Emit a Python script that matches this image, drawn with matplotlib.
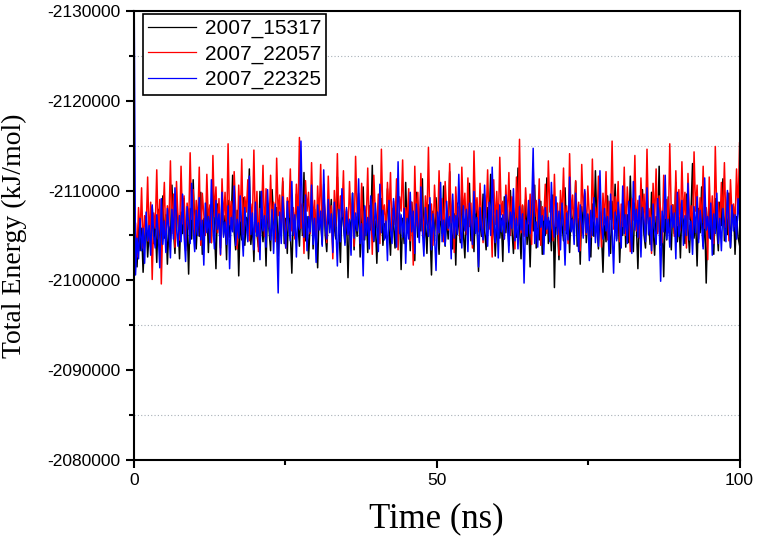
import numpy as np
import matplotlib
matplotlib.use("Agg")
import matplotlib.pyplot as plt
from matplotlib.ticker import MultipleLocator, StrMethodFormatter

plt.rcParams['axes.unicode_minus'] = False

# total energy (kJ/mol), evenly spaced over 0-100 ns
energy_15317 = [
    -2102800, -2104900, -2101500, -2106200, -2103300, -2105800, -2100900, -2104400, -2107100, -2102600,
    -2105500, -2103700, -2108200, -2104100, -2106600, -2102000, -2107900, -2105000, -2103200, -2109400,
    -2104700, -2107300, -2101800, -2106000, -2104300, -2110600, -2105600, -2103000, -2108400, -2106700,
    -2102400, -2107600, -2105200, -2109100, -2103800, -2106400, -2100700, -2108000, -2104600, -2111200,
    -2105900, -2103500, -2107400, -2104900, -2109800, -2102900, -2106900, -2105300, -2108700, -2103100,
    -2107700, -2104200, -2110300, -2105700, -2101300, -2108500, -2106100, -2103600, -2109500, -2105100,
    -2107200, -2102300, -2108900, -2104800, -2106300, -2111700, -2105400, -2103400, -2107800, -2100500,
    -2106800, -2104500, -2109200, -2103900, -2107000, -2105800, -2112400, -2104000, -2106500, -2102100,
    -2108300, -2105200, -2103700, -2109900, -2106200, -2104300, -2107500, -2101600, -2108600, -2105600,
    -2103300, -2110100, -2106600, -2104700, -2108100, -2102700, -2107300, -2105500, -2111000, -2104100,
    -2106900, -2103000, -2108800, -2105300, -2100800, -2107600, -2104800, -2109600, -2106300, -2103800,
    -2108400, -2105000, -2112000, -2104400, -2107100, -2102400, -2106000, -2109300, -2103500, -2107900,
    -2105700, -2101400, -2108200, -2106500, -2104000, -2110700, -2105100, -2103200, -2107400, -2106100,
    -2109000, -2103700, -2106800, -2104600, -2111500, -2105900, -2102000, -2108500, -2106400, -2104200,
    -2107700, -2100300, -2106700, -2105400, -2109700, -2103400, -2107200, -2104900, -2108900, -2102600,
    -2106000, -2110400, -2104500, -2107800, -2103100, -2108300, -2105600, -2112800, -2104300, -2106600,
    -2101900, -2107300, -2105100, -2109100, -2103900, -2106300, -2104700, -2110200, -2105800, -2102800,
    -2108000, -2106200, -2103600, -2109400, -2105000, -2107500, -2101200, -2106900, -2104100, -2110900,
    -2105300, -2107900, -2103300, -2108700, -2106500, -2102200, -2109800, -2104800, -2107100, -2105500,
    -2111300, -2104000, -2106700, -2103000, -2108400, -2105700, -2100600, -2107700, -2104400, -2109200,
    -2106100, -2102900, -2108100, -2105200, -2110500, -2103800, -2107000, -2104600, -2112100, -2105900,
    -2103500, -2107400, -2101700, -2108600, -2106000, -2104200, -2109900, -2105400, -2102500, -2107800,
    -2105000, -2110800, -2104400, -2106800, -2103200, -2108900, -2106300, -2101000, -2107600, -2104900,
    -2109600, -2105600, -2103400, -2108100, -2106600, -2111800, -2104300, -2107200, -2102700, -2106200,
    -2108500, -2104700, -2106900, -2102100, -2109300, -2105300, -2107900, -2103900, -2110000, -2105800,
    -2103000, -2107500, -2104800, -2112500, -2106100, -2102400, -2108300, -2105100, -2109000, -2104000,
    -2106700, -2101500, -2107800, -2105500, -2110600, -2103600, -2106400, -2104500, -2108800, -2102900,
    -2107100, -2105000, -2111400, -2104100, -2106600, -2103300, -2109500, -2099200, -2107400, -2105700,
    -2102300, -2108700, -2106200, -2104400, -2110300, -2105200, -2107700, -2103100, -2108000, -2106400,
    -2104700, -2111000, -2103800, -2106900, -2101800, -2108200, -2105400, -2109700, -2104200, -2107300,
    -2105900, -2102600, -2108500, -2104900, -2112200, -2106000, -2103500, -2107600, -2105300, -2100900,
    -2107000, -2104300, -2109400, -2105700, -2103000, -2108800, -2106300, -2110700, -2104600, -2107900,
    -2102000, -2106500, -2105000, -2109100, -2103700, -2107300, -2104200, -2111600, -2105600, -2103200,
    -2108600, -2106100, -2101300, -2107500, -2104800, -2110100, -2105100, -2103600, -2108300, -2106800,
    -2104000, -2109800, -2105900, -2102800, -2107100, -2105400, -2112700, -2103900, -2106600, -2100400,
    -2107800, -2104500, -2109300, -2106000, -2103400, -2108400, -2105200, -2110900, -2104300, -2107000,
    -2102500, -2108100, -2106400, -2104100, -2109600, -2105700, -2103100, -2107700, -2113000, -2104700,
    -2106900, -2101600, -2108000, -2105300, -2110400, -2103800, -2107200, -2099700, -2106300, -2108900,
    -2104600, -2107400, -2102900, -2109100, -2105800, -2103300, -2108700, -2106100, -2111300, -2104400,
    -2107500, -2105100, -2109700, -2103600, -2106800, -2108200, -2102900, -2107100, -2104800, -2103900,
]

energy_22057 = [
    -2103800, -2106400, -2102600, -2108100, -2104900, -2110300, -2103600, -2107200, -2105500, -2111500,
    -2104300, -2108700, -2100100, -2107500, -2105800, -2112300, -2104600, -2109000, -2099600, -2106900,
    -2110900, -2104100, -2108300, -2106000, -2113300, -2105200, -2109600, -2103700, -2111000, -2107000,
    -2104500, -2112700, -2106300, -2109400, -2103300, -2108600, -2105700, -2114200, -2106800, -2110100,
    -2104800, -2108900, -2106100, -2112600, -2103900, -2109700, -2107300, -2105000, -2111800, -2106500,
    -2108400, -2104200, -2113900, -2107100, -2110400, -2105300, -2109100, -2102800, -2111300, -2106700,
    -2109800, -2104700, -2115200, -2106200, -2108800, -2105600, -2112100, -2107800, -2103500, -2110600,
    -2106600, -2113500, -2105100, -2109300, -2107600, -2111200, -2104400, -2108500, -2106400, -2114500,
    -2105400, -2109900, -2103200, -2108000, -2106900, -2112800, -2104900, -2110200, -2107400, -2105900,
    -2111700, -2106000, -2108700, -2104300, -2113600, -2107200, -2109500, -2105000, -2111400, -2106800,
    -2103600, -2109200, -2107000, -2112400, -2105500, -2108100, -2104600, -2110700, -2106300, -2115900,
    -2105800, -2108600, -2103000, -2111100, -2107700, -2109800, -2105200, -2113100, -2106100, -2108900,
    -2104000, -2110500, -2106700, -2112900, -2105300, -2109100, -2107500, -2104200, -2111600, -2106500,
    -2108300, -2102400, -2110000, -2106000, -2114100, -2105700, -2109400, -2107100, -2112200, -2104700,
    -2107900, -2105100, -2111000, -2106800, -2108600, -2103800, -2113800, -2107300, -2109700, -2105600,
    -2110800, -2104500, -2108200, -2106400, -2112500, -2105000, -2109000, -2102900, -2111700, -2107600,
    -2105900, -2109600, -2104100, -2114600, -2106900, -2108400, -2105300, -2110900, -2107000, -2112000,
    -2104800, -2108800, -2106200, -2111300, -2103400, -2109300, -2107700, -2113400, -2105400, -2108100,
    -2106600, -2110200, -2104400, -2108700, -2101700, -2112700, -2106100, -2109800, -2105000, -2111900,
    -2107400, -2104900, -2109400, -2106300, -2114800, -2105800, -2108500, -2103900, -2110600, -2107100,
    -2105200, -2112200, -2106700, -2109100, -2104300, -2111000, -2107800, -2105600, -2113000, -2106400,
    -2108900, -2103100, -2110400, -2106900, -2108200, -2104700, -2112600, -2107200, -2109700, -2105100,
    -2111400, -2106000, -2108600, -2103600, -2114400, -2107500, -2109200, -2105400, -2110800, -2106800,
    -2104200, -2109500, -2107000, -2112300, -2105700, -2108000, -2102600, -2111200, -2106200, -2109900,
    -2105500, -2113700, -2107300, -2108800, -2104600, -2110600, -2106500, -2112000, -2105000, -2109300,
    -2107900, -2103500, -2111500, -2106100, -2115700, -2105300, -2108400, -2104900, -2110300, -2107400,
    -2106300, -2109600, -2104000, -2112800, -2107100, -2108900, -2105900, -2111300, -2103900, -2108200,
    -2106700, -2110700, -2105200, -2113300, -2107600, -2109000, -2104400, -2111800, -2106000, -2108600,
    -2102800, -2110000, -2106900, -2112500, -2105600, -2108300, -2104100, -2114100, -2107000, -2109500,
    -2105800, -2111100, -2106400, -2108700, -2103300, -2112900, -2107700, -2109900, -2105100, -2110500,
    -2107200, -2104800, -2113500, -2106600, -2108100, -2105400, -2111600, -2107900, -2103700, -2109700,
    -2106200, -2112100, -2104500, -2108800, -2106800, -2115500, -2105700, -2109300, -2107300, -2111000,
    -2104300, -2108500, -2106000, -2112600, -2105000, -2110400, -2107500, -2103200, -2109100, -2106700,
    -2113900, -2105500, -2108900, -2104700, -2111400, -2107100, -2109600, -2105900, -2114600, -2106300,
    -2108000, -2103000, -2110800, -2106500, -2112400, -2105200, -2109400, -2107800, -2104200, -2111700,
    -2106900, -2109000, -2105300, -2115200, -2107400, -2108400, -2104900, -2112200, -2106100, -2110100,
    -2105600, -2113200, -2107000, -2109800, -2103600, -2111900, -2106800, -2108300, -2105000, -2114300,
    -2107700, -2110600, -2104600, -2109200, -2106400, -2112700, -2105800, -2108100, -2102300, -2111500,
    -2106300, -2109400, -2104100, -2114900, -2107200, -2108700, -2105400, -2110900, -2106600, -2113100,
    -2105900, -2109800, -2104400, -2111200, -2107100, -2108500, -2106000, -2112400, -2107400, -2115300,
]

energy_22325 = [
    -2135000, -2100600, -2104700, -2102400, -2106900, -2103300, -2105800, -2101900, -2107600, -2104400,
    -2106100, -2102800, -2108400, -2104900, -2103600, -2107300, -2105200, -2101400, -2109100, -2104000,
    -2106600, -2103100, -2108000, -2105500, -2102500, -2107900, -2104600, -2110300, -2105900, -2103800,
    -2107200, -2104300, -2109600, -2105100, -2102100, -2108200, -2106300, -2104100, -2110800, -2105600,
    -2103200, -2107800, -2105000, -2109200, -2104500, -2106700, -2101700, -2108600, -2105300, -2107100,
    -2104200, -2111200, -2106000, -2103500, -2108900, -2105700, -2107400, -2102900, -2109800, -2104800,
    -2106500, -2104000, -2108300, -2101300, -2107000, -2105400, -2110500, -2103900, -2106800, -2104700,
    -2109400, -2105800, -2102700, -2108100, -2106200, -2104300, -2111600, -2105100, -2107500, -2103400,
    -2108700, -2104900, -2106400, -2102300, -2109900, -2105500, -2107200, -2103700, -2110100, -2106000,
    -2104500, -2107900, -2103000, -2108500, -2105200, -2098600, -2107600, -2104100, -2109300, -2105900,
    -2103600, -2108800, -2106100, -2104400, -2111000, -2105000, -2107300, -2102600, -2108200, -2105700,
    -2115500, -2106600, -2104800, -2109500, -2103300, -2107100, -2105400, -2110600, -2104000, -2106900,
    -2102000, -2108400, -2105600, -2107700, -2103800, -2112300, -2106200, -2104600, -2109000, -2105300,
    -2107400, -2103100, -2108700, -2105800, -2101600, -2107900, -2104300, -2110200, -2106400, -2103900,
    -2108100, -2105100, -2106800, -2102800, -2109700, -2104700, -2107500, -2105500, -2111300, -2104100,
    -2106300, -2100500, -2108300, -2105000, -2107000, -2103500, -2109400, -2105900, -2104400, -2108600,
    -2106000, -2103200, -2110700, -2105300, -2107800, -2104500, -2106600, -2102200, -2108900, -2105700,
    -2104100, -2109100, -2106500, -2103700, -2113200, -2105200, -2107300, -2104800, -2108000, -2101900,
    -2106900, -2104600, -2109800, -2105400, -2107700, -2103000, -2108500, -2106100, -2104200, -2110400,
    -2105600, -2102700, -2108100, -2106300, -2104900, -2109200, -2103400, -2107400, -2105000, -2101100,
    -2107600, -2105300, -2110900, -2104300, -2106700, -2103900, -2108800, -2105800, -2107100, -2102400,
    -2109600, -2104700, -2107200, -2105100, -2111800, -2106000, -2103600, -2108300, -2105500, -2107900,
    -2103200, -2108600, -2106400, -2104000, -2109900, -2105200, -2107000, -2101500, -2108100, -2105700,
    -2104500, -2110600, -2106100, -2103800, -2108700, -2105000, -2112600, -2106600, -2104200, -2107800,
    -2102500, -2108400, -2105400, -2107300, -2104600, -2109500, -2106200, -2103100, -2107600, -2105800,
    -2110200, -2104400, -2106900, -2103500, -2108200, -2105600, -2107400, -2099700, -2106700, -2104900,
    -2108900, -2105200, -2107900, -2114700, -2104100, -2106500, -2103700, -2109000, -2105900, -2107200,
    -2102900, -2108100, -2105700, -2107000, -2104300, -2110900, -2106300, -2104800, -2109300, -2105100,
    -2107700, -2103400, -2108600, -2106000, -2101700, -2107500, -2104500, -2111500, -2105400, -2106800,
    -2104000, -2109700, -2105900, -2103200, -2108400, -2106600, -2104700, -2110100, -2105300, -2107400,
    -2102200, -2107800, -2105000, -2109200, -2104200, -2106900, -2103800, -2112200, -2106100, -2104600,
    -2108000, -2105500, -2107100, -2102700, -2109600, -2105800, -2100800, -2107600, -2104400, -2108700,
    -2106300, -2103600, -2110500, -2105200, -2107300, -2104100, -2108800, -2106000, -2103000, -2111000,
    -2105600, -2107900, -2104800, -2109400, -2102600, -2108100, -2106700, -2104300, -2110300, -2105100,
    -2107000, -2103300, -2108500, -2105700, -2104000, -2109100, -2106400, -2099900, -2107700, -2105400,
    -2111700, -2104600, -2106800, -2103700, -2108300, -2105900, -2107500, -2102400, -2109800, -2104900,
    -2106200, -2108900, -2103900, -2107200, -2105000, -2110800, -2104500, -2106600, -2102900, -2108200,
    -2105300, -2109300, -2104200, -2107800, -2106100, -2103500, -2111400, -2105600, -2107100, -2104700,
    -2108600, -2102800, -2107400, -2105200, -2109700, -2104100, -2106900, -2103300, -2108000, -2105800,
    -2104300, -2110000, -2106500, -2103700, -2108400, -2105500, -2107300, -2104600, -2109100, -2106700,
]

labels = ['2007_15317', '2007_22057', '2007_22325']
colors = ['black', '#ff0000', '#0000ff']

time_ns = np.linspace(0, 100, len(energy_15317))

fig = plt.figure(figsize=(7.57, 5.40), dpi=100)
ax = fig.add_axes([0.177, 0.148, 0.800, 0.832])

for data, lab, col in zip([energy_15317, energy_22057, energy_22325], labels, colors):
    ax.plot(time_ns, data, color=col, lw=1.1, label=lab)

ax.set_xlim(0, 100)
ax.set_ylim(-2080000, -2130000)
ax.xaxis.set_major_locator(MultipleLocator(50))
ax.xaxis.set_minor_locator(MultipleLocator(25))
ax.yaxis.set_major_locator(MultipleLocator(10000))
ax.yaxis.set_minor_locator(MultipleLocator(5000))
ax.yaxis.set_major_formatter(StrMethodFormatter('{x:.0f}'))

# dotted grid at the minor y ticks only
for yv in [-2125000, -2115000, -2105000, -2095000, -2085000]:
    ax.axhline(yv, color='#a8b0b8', lw=0.8, ls=(0, (1, 2)), zorder=0)

for sp in ax.spines.values():
    sp.set_linewidth(1.5)
ax.tick_params(which='major', direction='out', length=6, width=1.5,
               labelsize=12.5, top=False, right=False)
ax.tick_params(which='minor', direction='out', length=3.5, width=1.5,
               top=False, right=False)
for t in ax.get_xticklabels() + ax.get_yticklabels():
    t.set_family('Liberation Sans')

ax.set_xlabel('Time (ns)', family='Liberation Serif', fontsize=25, labelpad=10)
ax.set_ylabel('Total Energy (kJ/mol)', family='Liberation Serif', fontsize=20, labelpad=15)

leg = ax.legend(loc='upper left', bbox_to_anchor=(0.015, 0.993), borderaxespad=0,
                fancybox=False, edgecolor='black', framealpha=1, handlelength=2.3,
                labelspacing=0.3, borderpad=0.25, handletextpad=0.4,
                prop={'family': 'Liberation Sans', 'size': 15})
leg.get_frame().set_linewidth(1.2)
for line in leg.get_lines():
    line.set_linewidth(0.9)

fig.savefig('out.png', dpi=100)
